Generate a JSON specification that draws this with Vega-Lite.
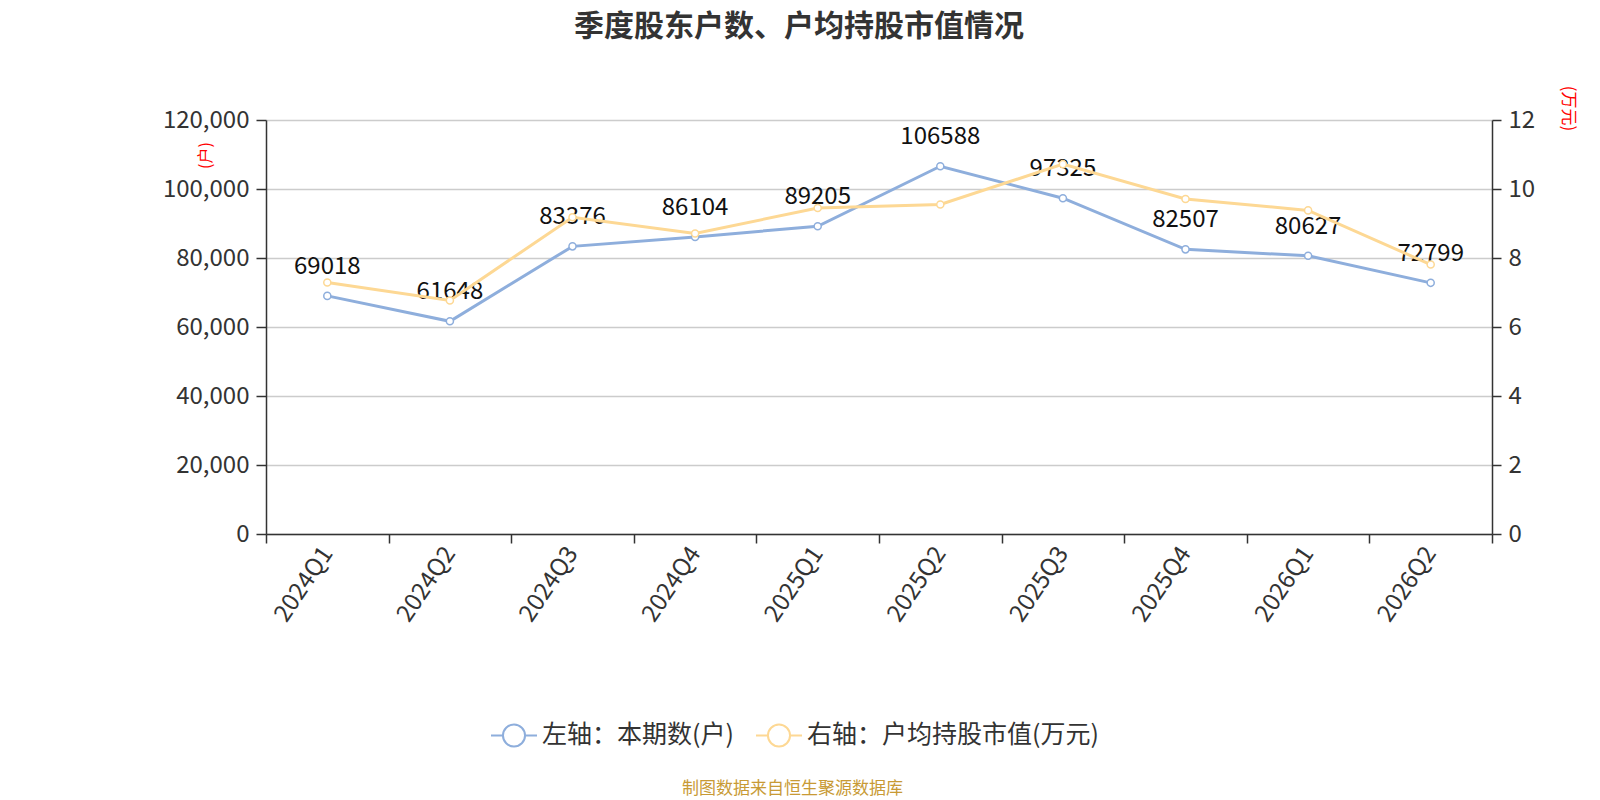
{
  "$schema": "https://vega.github.io/schema/vega-lite/v6.json",
  "width": 1226,
  "height": 414,
  "autosize": {"type": "none"},
  "padding": {"left": 266, "top": 120, "right": 108, "bottom": 266},
  "title": {
    "text": "季度股东户数、户均持股市值情况",
    "fontSize": 30,
    "fontWeight": "bold",
    "color": "#333333",
    "anchor": "middle",
    "frame": "group",
    "dx": -80,
    "offset": 43
  },
  "data": {
    "values": [
      {"quarter": "2024Q1", "holders": 69018, "value": 7.29},
      {"quarter": "2024Q2", "holders": 61648, "value": 6.77},
      {"quarter": "2024Q3", "holders": 83376, "value": 9.18},
      {"quarter": "2024Q4", "holders": 86104, "value": 8.71},
      {"quarter": "2025Q1", "holders": 89205, "value": 9.45},
      {"quarter": "2025Q2", "holders": 106588, "value": 9.55},
      {"quarter": "2025Q3", "holders": 97325, "value": 10.72},
      {"quarter": "2025Q4", "holders": 82507, "value": 9.71},
      {"quarter": "2026Q1", "holders": 80627, "value": 9.38},
      {"quarter": "2026Q2", "holders": 72799, "value": 7.81}
    ]
  },
  "encoding": {
    "x": {
      "field": "quarter",
      "type": "nominal",
      "sort": null,
      "scale": {"type": "band", "paddingInner": 0, "paddingOuter": 0},
      "axis": {
        "title": "制图数据来自恒生聚源数据库",
        "titleColor": "#c89a35",
        "titleFontSize": 17,
        "titleFontWeight": "normal",
        "titleX": 526,
        "titleY": 254,
        "titleAlign": "center",
        "titleBaseline": "middle",
        "labelAngle": -56,
        "labelFontSize": 24,
        "labelColor": "#333333",
        "labelPadding": 6,
        "tickBand": "extent",
        "tickSize": 9,
        "tickWidth": 1.5,
        "tickColor": "#333333",
        "domainColor": "#333333",
        "domainWidth": 1.5,
        "grid": false
      }
    }
  },
  "layer": [
    {
      "encoding": {
        "y": {
          "field": "holders",
          "type": "quantitative",
          "scale": {"domain": [0, 120000]},
          "axis": {
            "orient": "left",
            "values": [0, 20000, 40000, 60000, 80000, 100000, 120000],
            "format": ",.0f",
            "title": "(户)",
            "titleColor": "red",
            "titleFontSize": 16,
            "titleFontWeight": "normal",
            "titleX": -61,
            "titleY": 35,
            "titleAlign": "center",
            "titleBaseline": "middle",
            "labelFontSize": 24,
            "labelColor": "#333333",
            "labelPadding": 7,
            "tickSize": 10,
            "tickWidth": 1.5,
            "tickColor": "#333333",
            "domainColor": "#333333",
            "domainWidth": 1.5,
            "grid": true,
            "gridColor": "#cccccc",
            "gridWidth": 1.5
          }
        },
        "stroke": {"datum": "左轴：本期数(户)"}
      },
      "layer": [
        {"mark": {"type": "line", "strokeWidth": 3}},
        {"mark": {"type": "point", "filled": true, "fill": "white", "size": 50, "strokeWidth": 1.5, "opacity": 1}},
        {
          "mark": {"type": "text", "dy": -22, "baseline": "alphabetic", "fontSize": 24, "color": "#111111"},
          "encoding": {"text": {"field": "holders", "type": "quantitative", "format": "d"}, "stroke": {"value": null}}
        }
      ]
    },
    {
      "encoding": {
        "y": {
          "field": "value",
          "type": "quantitative",
          "scale": {"domain": [0, 12]},
          "axis": {
            "orient": "right",
            "values": [0, 2, 4, 6, 8, 10, 12],
            "title": "(万元)",
            "titleColor": "red",
            "titleFontSize": 17,
            "titleFontWeight": "normal",
            "titleX": 75,
            "titleY": -12,
            "titleAlign": "center",
            "titleBaseline": "middle",
            "labelFontSize": 24,
            "labelColor": "#333333",
            "labelPadding": 7,
            "tickSize": 9,
            "tickWidth": 1.5,
            "tickColor": "#333333",
            "domainColor": "#333333",
            "domainWidth": 1.5,
            "grid": false
          }
        },
        "stroke": {"datum": "右轴：户均持股市值(万元)"}
      },
      "layer": [
        {"mark": {"type": "line", "strokeWidth": 3}},
        {"mark": {"type": "point", "filled": true, "fill": "white", "size": 50, "strokeWidth": 1.5, "opacity": 1}}
      ]
    }
  ],
  "resolve": {"scale": {"y": "independent"}},
  "config": {
    "font": "Noto Sans CJK SC",
    "view": {"stroke": null},
    "range": {"category": ["#8eaedc", "#fdd894"]},
    "legend": {
      "orient": "none",
      "legendX": 224,
      "legendY": 591,
      "direction": "horizontal",
      "title": null,
      "symbolType": "M-1,0L-0.48,0M0.48,0L1,0M-0.48,0A0.48,0.48,0,1,1,0.48,0A0.48,0.48,0,1,1,-0.48,0Z",
      "symbolSize": 2116,
      "symbolStrokeWidth": 2,
      "symbolFillColor": "white",
      "labelFontSize": 25,
      "labelLimit": 500,
      "labelColor": "#333333",
      "labelOffset": 4,
      "columnPadding": 18
    }
  }
}
